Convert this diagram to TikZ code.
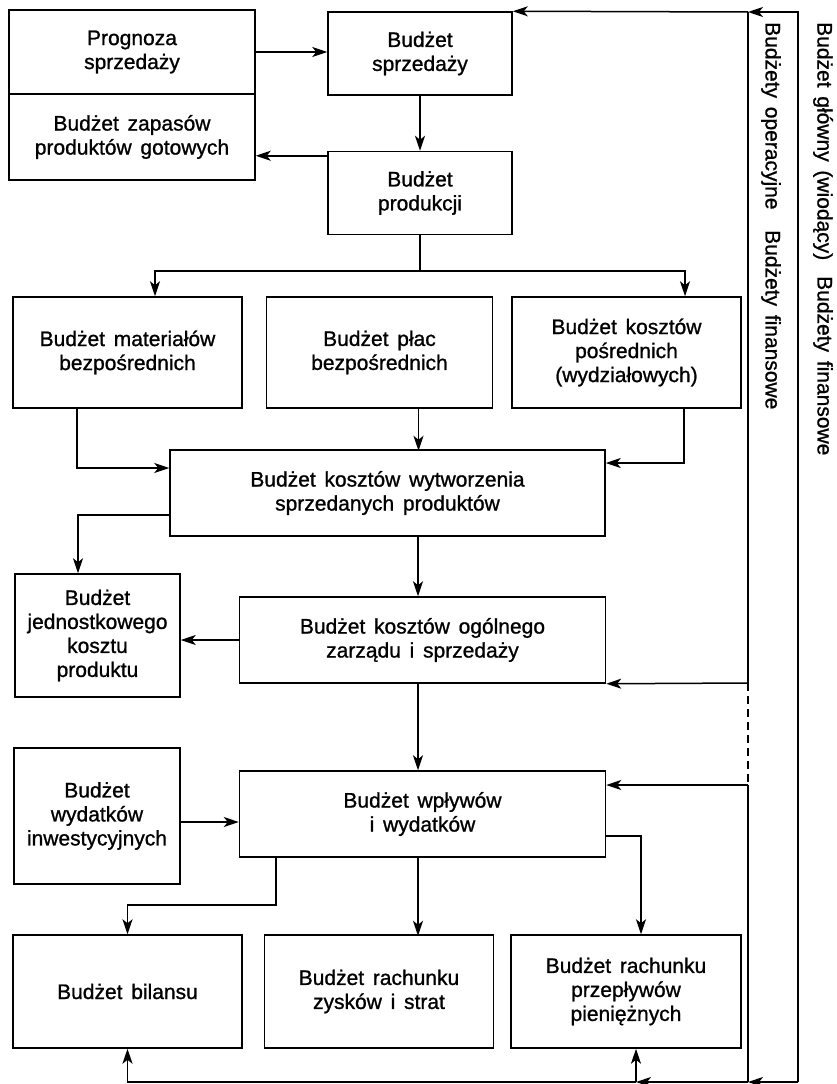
\documentclass[tikz,border=0pt]{standalone}
\usepackage{fontspec}
\setmainfont{Liberation Sans}[WordSpace=1.5, FakeBold=1]
\usetikzlibrary{positioning,arrows.meta}

\begin{document}
\begin{tikzpicture}[x=1pt,y=1pt,
box/.style={draw, line width=1.5pt, align=center, inner sep=2pt, font=\fontsize{21}{24}\selectfont},
arr/.style={-{Stealth[length=15pt,width=10pt,inset=4pt]}, line width=1.5pt},
lin/.style={line width=1.5pt},
side/.style={rotate=-90, anchor=west, inner sep=0pt, font=\fontsize{21}{24}\selectfont}]

\useasboundingbox (0,0) rectangle (837,-1084);

% gorna czesc
\node[box, minimum width=246pt, minimum height=84pt] (Prognoza) at (132,-52) {Prognoza\\sprzedaży};
\node[box, minimum width=246pt, minimum height=86pt, below=-\pgflinewidth of Prognoza] (Zapasy) {Budżet zapasów\\produktów gotowych};
\node[box, minimum width=184pt, minimum height=83pt] (Sprzedaz) at (420,-53.5) {Budżet\\sprzedaży};
\node[box, minimum width=184pt, minimum height=83pt, below=55pt of Sprzedaz] (Produkcja) {Budżet\\produkcji};

% budzety kosztow
\node[box, minimum width=229pt, minimum height=111pt] (Materialy) at (127.5,-352.5) {Budżet materiałów\\bezpośrednich};
\node[box, minimum width=226pt, minimum height=111pt, right=23pt of Materialy] (Place) {Budżet płac\\bezpośrednich};
\node[box, minimum width=229pt, minimum height=111pt, right=18pt of Place] (Posrednie) {Budżet kosztów\\pośrednich\\(wydziałowych)};
\node[box, minimum width=435pt, minimum height=86pt] (Wytworzenie) at (387.5,-493) {Budżet kosztów wytworzenia\\sprzedanych produktów};
\node[box, minimum width=165pt, minimum height=123pt] (Jednostkowy) at (97.5,-635.5) {Budżet\\jednostkowego\\kosztu\\produktu};
\node[box, minimum width=366pt, minimum height=86pt] (Ogolny) at (422.5,-640) {Budżet kosztów ogólnego\\zarządu i sprzedaży};

% budzety finansowe
\node[box, minimum width=166pt, minimum height=136pt] (Inwestycje) at (97,-816) {Budżet\\wydatków\\inwestycyjnych};
\node[box, minimum width=366pt, minimum height=86pt] (Wplywy) at (422.5,-814) {Budżet wpływów\\i wydatków};
\node[box, minimum width=229pt, minimum height=113pt] (Bilans) at (127.5,-991.5) {Budżet bilansu};
\node[box, minimum width=229pt, minimum height=113pt, right=21pt of Bilans] (Zyski) {Budżet rachunku\\zysków i strat};
\node[box, minimum width=230pt, minimum height=113pt, right=16pt of Zyski] (Przeplywy) {Budżet rachunku\\przepływów\\pieniężnych};

% opisy z boku
\node[side] (OpLab) at (771,-22) {Budżety operacyjne};
\node[side] (FinLab) at (771,-230) {Budżety finansowe};
\node[side] (GlLab) at (823,-22) {Budżet główny (wiodący)};
\node[side] (Fin2Lab) at (823,-276) {Budżety finansowe};

% polaczenia
\draw[arr] (Prognoza.east) -- (Prognoza.east -| Sprzedaz.west);
\draw[arr] (Sprzedaz.south) -- (Produkcja.north);
\draw[arr] ([yshift=-5pt]Produkcja.north west) -- ([yshift=-5pt]Produkcja.north west -| Zapasy.east);
\coordinate (fork) at (420,-271);
\draw[lin] (Produkcja.south) -- (fork);
\draw[arr] (fork) -| ([xshift=27.5pt]Materialy.north);
\draw[arr] (fork) -| ([xshift=58.5pt]Posrednie.north);
\draw[arr] ([xshift=-50.5pt]Materialy.south) |- ([yshift=25pt]Wytworzenie.west);
\draw[arr] ([xshift=39pt]Place.south) -- ++(0,-42);
\draw[arr] ([xshift=57.5pt]Posrednie.south) |- ([yshift=30pt]Wytworzenie.east);
\draw[arr] ([yshift=-22pt]Wytworzenie.west) -| ([xshift=-19.5pt]Jednostkowy.north);
\draw[arr] ([xshift=-4.5pt]Ogolny.north |- Wytworzenie.south) -- ([xshift=-4.5pt]Ogolny.north);
\draw[arr] (Ogolny.west) -- (Ogolny.west -| Jednostkowy.east);
\draw[arr] ([xshift=-4.5pt]Ogolny.south) -- ([xshift=-4.5pt]Wplywy.north);
\draw[arr] ([yshift=-8pt]Wplywy.west -| Inwestycje.east) -- ([yshift=-8pt]Wplywy.west);
\draw[arr] ([xshift=-146.5pt]Wplywy.south) -- ++(0,-47) -| (Bilans.north);
\draw[arr] ([xshift=-4.5pt]Wplywy.south) -- ++(0,-78);
\draw[arr] ([yshift=-22pt]Wplywy.east) -| ([xshift=15pt]Przeplywy.north);

% petla po prawej
\coordinate (glT) at (798,-12);
\coordinate (glB) at (798,-1082);
\coordinate (opT) at (748,-12);
\coordinate (opB) at (748,-1082);
\coordinate (op1) at (748,-683);
\coordinate (op2) at (748,-785);
\coordinate (dol) at (636,-1082);
\draw[arr] (glB) -- (glT) -- (opT);
\draw[arr] (opT) -- (Sprzedaz.north east);
\draw[lin] (opT) -- (op1);
\draw[lin, dash pattern=on 8pt off 5pt] (op1) -- (op2);
\draw[lin] (op2) -- (opB);
\draw[arr] (op1) -- (Ogolny.south east);
\draw[arr] (op2) -- (op2 -| Wplywy.east);
\draw[arr] (glB) -- (opB);
\draw[arr] (opB) -- (dol);
\draw[arr] (dol) -- (dol |- Przeplywy.south);
\draw[arr] (dol) -| (Bilans.south);

\end{tikzpicture}
\end{document}
